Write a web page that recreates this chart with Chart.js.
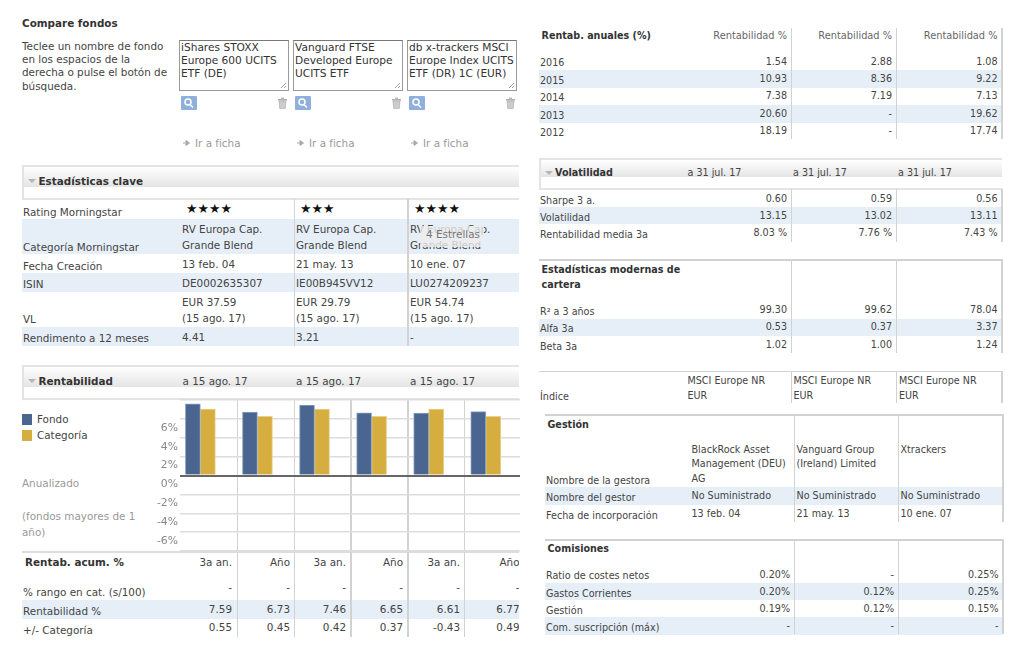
<!DOCTYPE html>
<html lang="es">
<head>
<meta charset="utf-8">
<title>Compare fondos</title>
<script src="https://cdn.jsdelivr.net/npm/chart.js@4/dist/chart.umd.min.js"></script>
<style>
    html, body { margin: 0; padding: 0; background: #fff; }
    body { width: 1024px; height: 649px; overflow: hidden; position: relative; font-family: "DejaVu Sans", sans-serif; font-size: 10.4px; color: #444; filter: blur(0.3px); }
    #left { position: absolute; left: 0; top: 0; width: 519px; height: 649px; overflow: hidden; }
    #right { position: absolute; left: 0; top: 0; width: 1024px; height: 649px; font-size: 9.6px; }
    .t { position: absolute; white-space: nowrap; height: 14px; line-height: 14px; }
    #right .t { margin-top: 1px; }
    .tr { transform: translateX(-100%); }
    .b { font-weight: bold; color: #333; }
    .band { position: absolute; background: #e6eff8; }
    .line { position: absolute; background: #d2d2d2; }
    .head { position: absolute; box-sizing: border-box; border: 2px solid #e4e4e4; border-right: 0; }
    .tri { position: absolute; width: 0; height: 0; border-left: 4px solid transparent; border-right: 4px solid transparent; border-top: 4px solid #b5b5b5; }
    .box { position: absolute; box-sizing: border-box; border: 1px solid #999; border-top-color: #777; background: #fff; color: #333; font-size: 10.6px; line-height: 13px; padding: 0 1px; width: 110px; height: 51px; white-space: nowrap; }
    canvas { position: absolute; left: 140px; top: 392px; }
    svg { position: absolute; }
</style>
</head>
<body>
<div id="left"></div>
<div id="right"></div>
<canvas id="rentChart" width="380" height="160"></canvas>
<script>
// Datos del gráfico
const periodos = ['3a an.', 'Año', '3a an.', 'Año', '3a an.', 'Año'];
const rentFondo = [7.59, 6.73, 7.46, 6.65, 6.61, 6.77];
const rentCategoria = [7.04, 6.28, 7.04, 6.28, 7.04, 6.28];
const rangoCat = ['-', '-', '-', '-', '-', '-'];
const difCategoria = ['0.55', '0.45', '0.42', '0.37', '-0.43', '0.49'];
const serieNombres = ['Fondo', 'Categoría'];

// Datos de las tablas
const fondos = [
    ['iShares STOXX', 'Europe 600 UCITS', 'ETF (DE)'],
    ['Vanguard FTSE', 'Developed Europe', 'UCITS ETF'],
    ['db x-trackers MSCI', 'Europe Index UCITS', 'ETF (DR) 1C (EUR)']
];
const ayuda = ['Teclee un nombre de fondo', 'en los espacios de la', 'derecha o pulse el botón de', 'búsqueda.'];
const estrellas = ['★★★★', '★★★', '★★★★'];
const categorias = ['RV Europa Cap.', 'Grande Blend'];
const fechaCreacion = ['13 feb. 04', '21 may. 13', '10 ene. 07'];
const isin = ['DE0002635307', 'IE00B945VV12', 'LU0274209237'];
const vl = ['EUR 37.59', 'EUR 29.79', 'EUR 54.74'];
const rendimiento = ['4.41', '3.21', '-'];

const anios = ['2016', '2015', '2014', '2013', '2012'];
const rentAnuales = [
    ['1.54', '2.88', '1.08'],
    ['10.93', '8.36', '9.22'],
    ['7.38', '7.19', '7.13'],
    ['20.60', '-', '19.62'],
    ['18.19', '-', '17.74']
];
const volatilidadNombres = ['Sharpe 3 a.', 'Volatilidad', 'Rentabilidad media 3a'];
const volatilidad = [
    ['0.60', '0.59', '0.56'],
    ['13.15', '13.02', '13.11'],
    ['8.03 %', '7.76 %', '7.43 %']
];
const modernasNombres = ['R² a 3 años', 'Alfa 3a', 'Beta 3a'];
const modernas = [
    ['99.30', '99.62', '78.04'],
    ['0.53', '0.37', '3.37'],
    ['1.02', '1.00', '1.24']
];
const gestora = [
    ['BlackRock Asset', 'Management (DEU)', 'AG'],
    ['Vanguard Group', '(Ireland) Limited'],
    ['Xtrackers']
];
const comisionesNombres = ['Ratio de costes netos', 'Gastos Corrientes', 'Gestión', 'Com. suscripción (máx)'];
const comisiones = [
    ['0.20%', '-', '0.25%'],
    ['0.20%', '0.12%', '0.25%'],
    ['0.19%', '0.12%', '0.15%'],
    ['-', '-', '-']
];

const left = document.getElementById('left');
const right = document.getElementById('right');

function div(parent, cls, x, y, w, h) {
    const d = document.createElement('div');
    d.className = cls;
    d.style.left = x + 'px';
    d.style.top = y + 'px';
    if (w !== undefined) d.style.width = w + 'px';
    if (h !== undefined) d.style.height = h + 'px';
    parent.appendChild(d);
    return d;
}

// y es el centro vertical del texto
function txt(parent, x, y, text, color, extra) {
    const d = div(parent, 't' + (extra || ''), x, y - 7.4);
    d.textContent = text;
    if (color) d.style.color = color;
    return d;
}

// Texto alineado a la derecha en xRight
function txtR(parent, xRight, y, text, color) {
    return txt(parent, xRight, y, text, color, ' tr');
}

function cabecera(parent, x, y, w, h, titulo, titX, fecha, fechaXs) {
    const caja = div(parent, 'head', x, y, w, h);
    const fin = h - 15;
    caja.style.background = 'linear-gradient(#fff 0, #e4e4e4 ' + fin + 'px, #fff ' + fin + 'px)';
    const yText = y + h / 2 - 1.5;
    div(parent, 'tri', x + 6, yText - 2);
    txt(parent, titX, yText, titulo, null, ' b');
    if (fecha) fechaXs.forEach(fx => txt(parent, fx, yText, fecha));
}

function vlineas(parent, xs, y1, y2) {
    xs.forEach(x => div(parent, 'line', x, y1, 1.5, y2 - y1));
}

function iconos(x) {
    const lupa = '<svg style="left:' + x + 'px;top:96px" width="16" height="14"><rect width="16" height="14" rx="1" fill="#8fb0dc"/><circle cx="7" cy="6" r="3" fill="none" stroke="#fff" stroke-width="1.5"/><line x1="9" y1="8.5" x2="12" y2="11.5" stroke="#fff" stroke-width="1.5"/></svg>';
    const papelera = '<svg style="left:' + (x + 96) + 'px;top:97px" width="11" height="12"><rect x="1" y="2" width="9" height="1.5" fill="#aaa"/><rect x="4" y="0.5" width="3" height="2" fill="#bbb"/><path d="M2 4h7l-0.7 7.5H2.7z" fill="#ccc" stroke="#aaa" stroke-width="0.6"/></svg>';
    left.insertAdjacentHTML('beforeend', lupa + papelera);
}

// --- Panel izquierdo ---
txt(left, 22, 23, 'Compare fondos', null, ' b');
ayuda.forEach((linea, i) => txt(left, 22, 46 + i * 13.4, linea));

[179, 293, 407].forEach((x, i) => {
    const caja = div(left, 'box', x, 40);
    caja.innerHTML = fondos[i].join('<br>');
    caja.insertAdjacentHTML('beforeend', '<svg style="right:1px;bottom:1px" width="7" height="7"><path d="M1 6L6 1M4 6L6 4" stroke="#888" stroke-width="0.8"/></svg>');
    iconos(x + 2);
    left.insertAdjacentHTML('beforeend', '<svg style="left:' + (x + 4) + 'px;top:140px" width="7" height="6"><path d="M0 3h4M3 0.5L6.5 3L3 5.5z" stroke="#aaa" fill="#aaa" stroke-width="1"/></svg>');
    txt(left, x + 16, 143, 'Ir a ficha', '#999');
});

cabecera(left, 22, 165, 497, 35, 'Estadísticas clave', 38.5);

div(left, 'band', 22, 219, 497, 35);
div(left, 'band', 22, 273, 497, 19);
div(left, 'band', 22, 327, 497, 19);
vlineas(left, [293.5, 407], 199, 346);

txt(left, 23, 212, 'Rating Morningstar');
txt(left, 23, 247, 'Categoría Morningstar');
txt(left, 23, 266, 'Fecha Creación');
txt(left, 23, 284, 'ISIN');
txt(left, 23, 319, 'VL');
txt(left, 23, 338, 'Rendimento a 12 meses');

[182, 296, 410].forEach((x, i) => {
    txt(left, x + 4, 209, estrellas[i], '#111').style.fontSize = '12.8px';
    txt(left, x, 229, categorias[0]);
    txt(left, x, 245, categorias[1]);
    txt(left, x, 264, fechaCreacion[i]);
    txt(left, x, 283, isin[i]);
    txt(left, x, 302, vl[i]);
    txt(left, x, 318, '(15 ago. 17)');
    txt(left, x, 337, rendimiento[i]);
});

// Tooltip que tapa la tercera columna
const tip = div(left, 'band', 420, 226, 64, 21);
tip.style.background = 'rgba(236,236,236,0.8)';
txt(left, 426, 234, '4 Estrellas', '#777');

cabecera(left, 22, 365, 497, 35, 'Rentabilidad', 38.5, 'a 15 ago. 17', [182.5, 296, 410]);

div(left, 'band', 22, 414, 10, 10.5).style.background = '#4a6590';
div(left, 'band', 22, 430, 10, 10.5).style.background = '#d6ae40';
txt(left, 37, 419, serieNombres[0]);
txt(left, 37, 435, serieNombres[1]);

txt(left, 22, 483, 'Anualizado', '#999');
txt(left, 22, 516, '(fondos mayores de 1', '#999');
txt(left, 22, 532, 'año)', '#999');

const lineaBase = div(left, 'line', 22, 551, 497, 1.5);
lineaBase.style.background = '#ddd';
div(left, 'band', 22, 600, 497, 18.5);
vlineas(left, [236.5, 293.5, 350, 407, 463.5], 400, 637);

txt(left, 25, 562, 'Rentab. acum. %', null, ' b');
txt(left, 23, 592, '% rango en cat. (s/100)');
txt(left, 23, 611, 'Rentabilidad %');
txt(left, 23, 630, '+/- Categoría');

[232, 290, 346, 403, 460, 519.5].forEach((x, i) => {
    txtR(left, x, 562, periodos[i]);
    txtR(left, x, 587, rangoCat[i]);
    txtR(left, x, 609, rentFondo[i].toFixed(2));
    txtR(left, x, 627, difCategoria[i]);
});

// --- Panel derecho ---
const colDer = [787, 892, 997.5];
const colLin = [790.5, 895.5, 1001];

// Rentabilidades anuales
txt(right, 541.5, 35, 'Rentab. anuales (%)', null, ' b');
colDer.forEach(x => { txtR(right, x, 35, 'Rentabilidad %', '#666').style.fontSize = '9.8px'; });
div(right, 'band', 539, 70, 462, 17.5);
div(right, 'band', 539, 105, 462, 17.5);
vlineas(right, colLin, 28, 139);
anios.forEach((a, i) => {
    const y = 62.7 + i * 17.4;
    txt(right, 540, y, a);
    colDer.forEach((x, c) => txtR(right, x, y - 1.7, rentAnuales[i][c]));
});

// Volatilidad
cabecera(right, 539, 158, 463, 32, 'Volatilidad', 555, 'a 31 jul. 17', [687.5, 793, 898]);
div(right, 'band', 539, 207, 462, 17);
vlineas(right, colLin, 189, 242);
volatilidadNombres.forEach((n, i) => {
    const y = 200 + i * 17.2;
    txt(right, 540, y, n);
    colDer.forEach((x, c) => txtR(right, x, y - 1.7, volatilidad[i][c]));
});

// Estadísticas modernas
div(right, 'line', 539, 259, 463, 1.5);
txt(right, 541.5, 269, 'Estadísticas modernas de', null, ' b');
txt(right, 541.5, 284, 'cartera', null, ' b');
div(right, 'band', 539, 318.5, 462, 17);
vlineas(right, colLin, 259, 353);
modernasNombres.forEach((n, i) => {
    const y = 311 + i * 17.5;
    txt(right, 540, y, n);
    colDer.forEach((x, c) => txtR(right, x, y - 1.7, modernas[i][c]));
});

// Índice
div(right, 'line', 539, 370.5, 463, 1.5);
txt(right, 540, 396.5, 'Índice');
vlineas(right, colLin, 371, 403);
[687.5, 793.5, 899].forEach(x => {
    txt(right, x, 380, 'MSCI Europe NR');
    txt(right, x, 395, 'EUR');
});

// Gestión
div(right, 'line', 545, 414, 457, 1.5);
txt(right, 547.5, 424, 'Gestión', null, ' b');
div(right, 'band', 545, 487, 457, 17.5);
vlineas(right, [793.5, 897.5, 1002], 414, 522);
txt(right, 546, 480, 'Nombre de la gestora');
txt(right, 546, 497.5, 'Nombre del gestor');
txt(right, 546, 515, 'Fecha de incorporación');
[691.5, 796.5, 900.5].forEach((x, i) => {
    gestora[i].forEach((linea, j) => txt(right, x, 449 + j * 14.6, linea));
    txt(right, x, 495.7, 'No Suministrado');
    txt(right, x, 513, fechaCreacion[i]);
});

// Comisiones
div(right, 'line', 545, 538.5, 457, 2);
txt(right, 547.5, 548.5, 'Comisiones', null, ' b');
div(right, 'band', 545, 582.5, 457, 17.5);
div(right, 'band', 545, 617, 457, 17.5);
vlineas(right, [793.5, 897.5, 1002], 539, 634);
comisionesNombres.forEach((n, i) => {
    const y = 575.7 + i * 17.3;
    txt(right, 546, y, n);
    [790, 894, 998.5].forEach((x, c) => txtR(right, x, y - 1.8, comisiones[i][c]));
});

// --- Gráfico de barras ---
new Chart(document.getElementById('rentChart'), {
    type: 'bar',
    data: {
        datasets: [
            {
                label: serieNombres[0],
                data: rentFondo.map((v, i) => ({ x: i, y: v })),
                backgroundColor: '#4a6590',
                borderColor: '#8ea2c0',
                borderWidth: 1,
                barThickness: 15
            },
            {
                label: serieNombres[1],
                data: rentCategoria.map((v, i) => ({ x: i, y: v })),
                backgroundColor: '#d6ae40',
                borderColor: '#e8cf8a',
                borderWidth: 1,
                barThickness: 15
            }
        ]
    },
    options: {
        responsive: false,
        animation: false,
        devicePixelRatio: 1,
        layout: { padding: { top: 8, bottom: 1 } },
        plugins: { legend: { display: false }, tooltip: { enabled: false } },
        scales: {
            x: { type: 'linear', display: false, offset: false, min: -0.357, max: 5.6 },
            y: {
                min: -8,
                max: 8,
                border: { display: false },
                grid: {
                    drawTicks: false,
                    color: ctx => ctx.tick.value === 0 ? '#666' : '#ddd',
                    lineWidth: ctx => ctx.tick.value === 0 ? 2 : 1.5
                },
                ticks: {
                    stepSize: 2,
                    padding: 2,
                    labelOffset: 9,
                    color: '#888',
                    font: { family: '"DejaVu Sans"', size: 10.8 },
                    callback: v => Math.abs(v) === 8 ? '' : v + '%'
                },
                afterFit: scale => {
                    scale.width = 40;
                    scale.paddingTop = 0;
                    scale.paddingBottom = 0;
                }
            }
        }
    }
});
</script>
</body>
</html>
